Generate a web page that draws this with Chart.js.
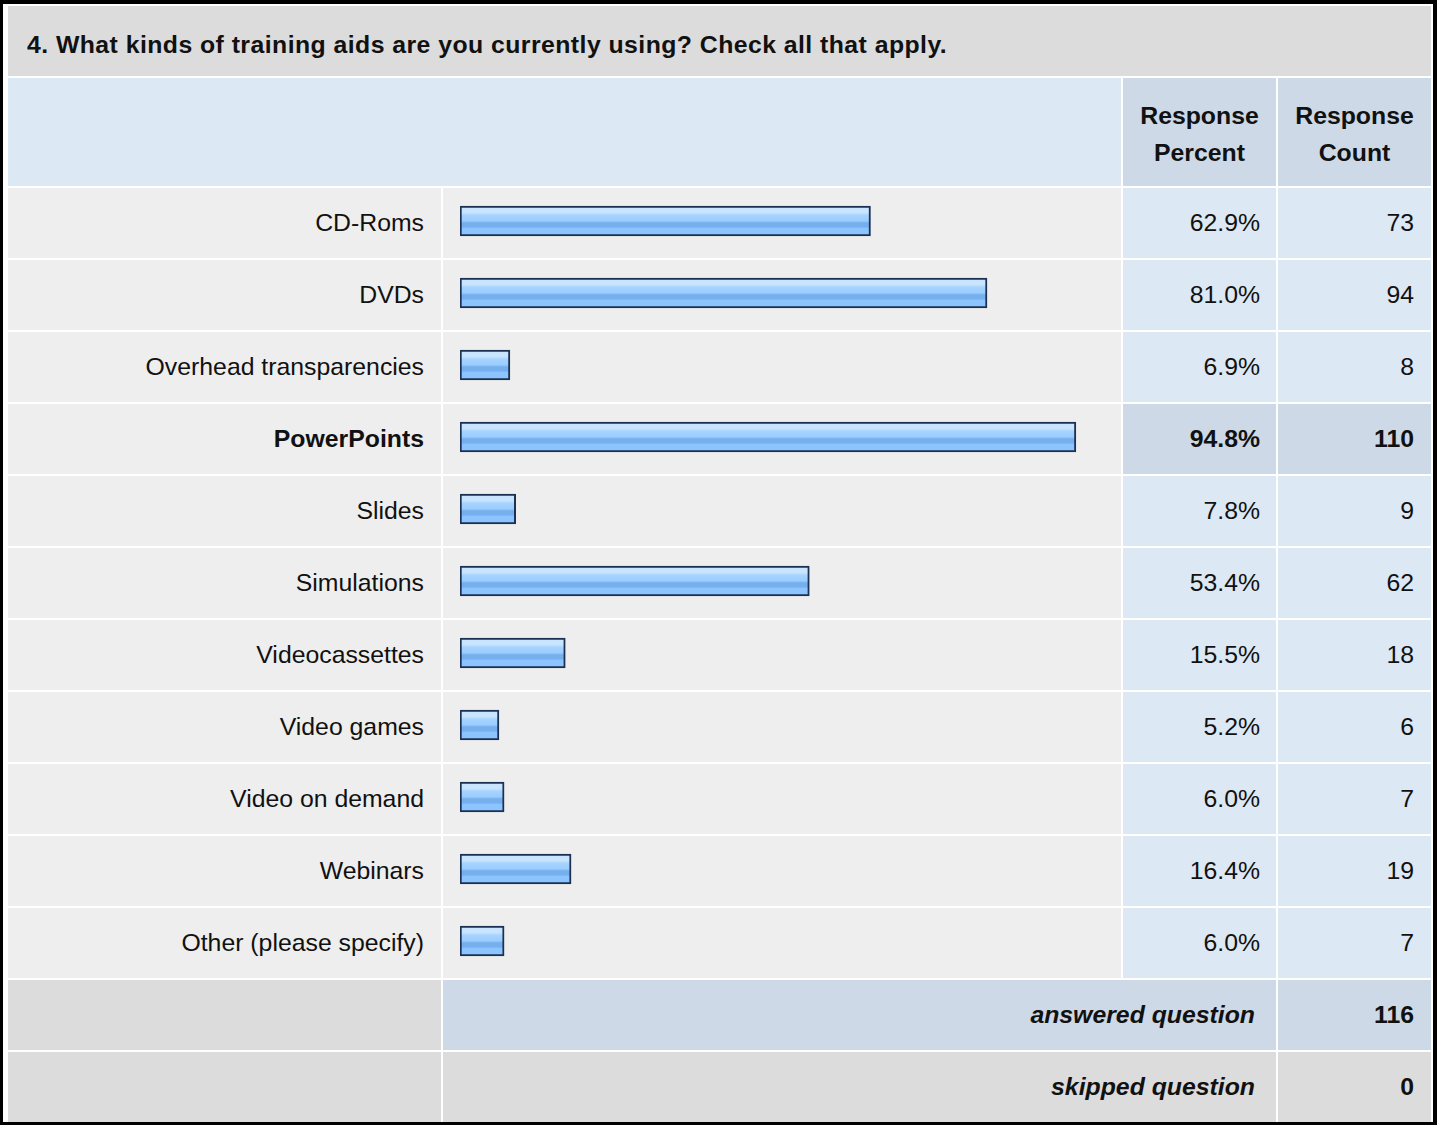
<!DOCTYPE html>
<html>
<head>
<meta charset="utf-8">
<script src="https://cdn.jsdelivr.net/npm/chart.js@4"></script>
<style>
  html, body { margin: 0; padding: 0; background: #fff; }
  body { width: 1437px; height: 1125px; position: relative; overflow: hidden;
         font-family: "Liberation Sans", Arial, sans-serif; font-size: 24.8px; color: #111; }
  #frame { position: absolute; left: 0; top: 0; width: 1437px; height: 1125px; box-sizing: border-box;
           border-style: solid; border-color: #000; border-width: 4px 4px 3px 3px; }
  .cell { position: absolute; box-sizing: border-box; display: flex; align-items: center; }
  .gray { background: #dcdcdc; }
  .blue { background: #dde8f5; }
  .dark { background: #cdd9e6; }
  .light { background: #eeeeee; }
  .right { justify-content: flex-end; }
  .center { justify-content: center; text-align: center; }
  b { font-weight: bold; }
  #barWrap { position: absolute; left: 444px; top: 185px; width: 678px; height: 792px; }
</style>
</head>
<body>
<div id="frame"></div>
<div id="table"></div>
<div id="barWrap"><canvas id="bars"></canvas></div>
<script>
// Survey question 4
const title = '4. What kinds of training aids are you currently using? Check all that apply.';
const categories = ['CD-Roms', 'DVDs', 'Overhead transparencies', 'PowerPoints', 'Slides', 'Simulations',
  'Videocassettes', 'Video games', 'Video on demand', 'Webinars', 'Other (please specify)'];
const percents = [62.9, 81.0, 6.9, 94.8, 7.8, 53.4, 15.5, 5.2, 6.0, 16.4, 6.0];
const counts = [73, 94, 8, 110, 9, 62, 18, 6, 7, 19, 7];
const answered = 116;
const skipped = 0;

// layout of the grid
const colX = [8, 443, 1123, 1278];
const colW = [433, 678, 153, 153];
const rowTop0 = 188, rowH = 70, rowGap = 2;
const maxCount = Math.max(...counts);

const table = document.getElementById('table');
function cell(x, y, w, h, cls, html, style) {
  const d = document.createElement('div');
  d.className = 'cell ' + cls;
  d.style.left = x + 'px'; d.style.top = y + 'px';
  d.style.width = w + 'px'; d.style.height = h + 'px';
  if (style) d.style.cssText += style;
  d.innerHTML = html;
  table.appendChild(d);
}

// title and header
cell(8, 6, 1423, 70, 'gray', '<b>' + title + '</b>', 'padding-left:19px;padding-top:8px;letter-spacing:0.45px;');
cell(8, 78, 1113, 108, 'blue', '');
cell(colX[2], 78, colW[2], 108, 'dark center', '<b style="line-height:37px">Response<br>Percent</b>', 'padding-top:4px;');
cell(colX[3], 78, colW[3], 108, 'dark center', '<b style="line-height:37px">Response<br>Count</b>', 'padding-top:4px;');

// data rows
categories.forEach((c, i) => {
  const y = rowTop0 + i * (rowH + rowGap);
  const top = counts[i] === maxCount;
  const t = s => top ? '<b>' + s + '</b>' : s;
  cell(colX[0], y, colW[0], rowH, 'light right', t(c), 'padding-right:17px;');
  cell(colX[1], y, colW[1], rowH, 'light', '');
  cell(colX[2], y, colW[2], rowH, (top ? 'dark' : 'blue') + ' right', t(percents[i].toFixed(1) + '%'), 'padding-right:16px;');
  cell(colX[3], y, colW[3], rowH, (top ? 'dark' : 'blue') + ' right', t(String(counts[i])), 'padding-right:17px;');
});

// summary rows
const ay = rowTop0 + categories.length * (rowH + rowGap);
const sy = ay + rowH + rowGap;
cell(colX[0], ay, colW[0], rowH, 'gray', '');
cell(colX[1], ay, colW[1] + 2 + colW[2], rowH, 'dark right', '<b><i>answered question</i></b>', 'padding-right:21px;');
cell(colX[3], ay, colW[3], rowH, 'dark right', '<b>' + answered + '</b>', 'padding-right:17px;');
cell(colX[0], sy, colW[0], rowH, 'gray', '');
cell(colX[1], sy, colW[1] + 2 + colW[2], rowH, 'gray right', '<b><i>skipped question</i></b>', 'padding-right:21px;');
cell(colX[3], sy, colW[3], rowH, 'gray right', '<b>' + skipped + '</b>', 'padding-right:17px;');

// glossy bar fill, built per bar from its y position
function barFill(ctx) {
  const chart = ctx.chart;
  const y = chart.scales.y;
  if (!y || ctx.dataIndex === undefined) return '#99ccff';
  const mid = y.getPixelForValue(ctx.dataIndex);
  if (!isFinite(mid)) return '#99ccff';
  const g = chart.ctx.createLinearGradient(0, mid - 15, 0, mid + 15);
  g.addColorStop(0, '#c8e4ff');
  g.addColorStop(0.22, '#c8e4ff');
  g.addColorStop(0.3, '#a8d4ff');
  g.addColorStop(0.5, '#99ccff');
  g.addColorStop(0.56, '#76afee');
  g.addColorStop(0.7, '#76afee');
  g.addColorStop(0.74, '#8cc4ff');
  g.addColorStop(1, '#8cc4ff');
  return g;
}

// the bar images start a few pixels left of zero, so the axis begins slightly below it
const axisMin = -0.85;

const chart = new Chart(document.getElementById('bars'), {
  type: 'bar',
  data: {
    labels: categories,
    datasets: [{
      data: percents,
      base: axisMin,
      backgroundColor: barFill,
      borderColor: '#1b3154',
      borderWidth: 2,
      borderSkipped: false,
      barThickness: 30
    }]
  },
  options: {
    indexAxis: 'y',
    responsive: true,
    maintainAspectRatio: false,
    animation: false,
    layout: { padding: { left: 16, right: 12, top: 0, bottom: 0 } },
    plugins: { legend: { display: false }, tooltip: { enabled: false } },
    scales: {
      x: { display: false, min: axisMin, max: 100.1 },
      y: { display: false }
    }
  }
});
chart.update();
</script>
</body>
</html>
